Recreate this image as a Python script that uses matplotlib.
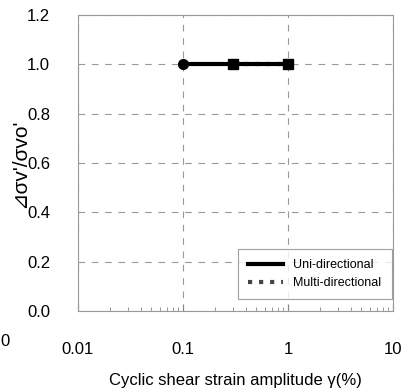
import matplotlib
matplotlib.use("Agg")
import matplotlib.pyplot as plt
from matplotlib.lines import Line2D
from matplotlib.ticker import FixedLocator, LogLocator, NullFormatter

uni_x = [0.1, 0.3, 1.0]
uni_y = [1.0, 1.0, 1.0]
multi_x = [0.3, 1.0]
multi_y = [1.0, 1.0]
xticks = [0.01, 0.1, 1, 10]
xticklabels = ["0.01", "0.1", "1", "10"]
yticks = [0.0, 0.2, 0.4, 0.6, 0.8, 1.0, 1.2]
yticklabels = ["0.0", "0.2", "0.4", "0.6", "0.8", "1.0", "1.2"]

plt.rcParams['font.family'] = ['Liberation Sans', 'DejaVu Sans']

fig = plt.figure(figsize=(4.16, 3.92), dpi=100)
ax = fig.add_axes([0.1875, 0.2066, 0.7575, 0.7554])

ax.set_xscale('log')
ax.set_xlim(0.01, 10)
ax.set_ylim(0.0, 1.2)

ax.plot(multi_x, multi_y, color='black', lw=3, ls=':', marker='s', ms=7, zorder=3)
ax.plot(uni_x, uni_y, color='black', lw=3, marker='o', ms=7, markevery=[0], zorder=4)

ax.xaxis.set_major_locator(FixedLocator(xticks))
ax.set_xticklabels(xticklabels)
ax.xaxis.set_minor_locator(LogLocator(base=10, subs=range(2, 10)))
ax.xaxis.set_minor_formatter(NullFormatter())
ax.set_yticks(yticks)
ax.set_yticklabels(yticklabels)

ax.tick_params(axis='x', which='major', direction='in', length=5, pad=22, labelsize=12, color='#888888')
ax.tick_params(axis='x', which='minor', direction='in', length=3, color='#888888')
ax.tick_params(axis='y', which='major', length=0, pad=20, labelsize=12)

ax.grid(True, which='major', ls=(0, (6, 6)), color='#999999', lw=0.8)
for s in ax.spines.values():
    s.set_color('#999999')
    s.set_linewidth(0.8)

ax.set_xlabel('Cyclic shear strain amplitude γ(%)', fontsize=12, labelpad=12)
ax.set_ylabel("⊿σv'/σvo'", fontsize=15)
ax.yaxis.set_label_coords(-0.155, 0.5)

handles = [Line2D([], [], color='black', lw=3),
           Line2D([], [], color='#444444', lw=3, ls=':')]
leg = ax.legend(handles, ['Uni-directional', 'Multi-directional'],
                loc='lower right', bbox_to_anchor=(0.995, 0.04), borderaxespad=0,
                fontsize=9, frameon=True, fancybox=False, edgecolor='#888888',
                handlelength=2.8, borderpad=0.8, labelspacing=0.5)
leg.get_frame().set_linewidth(0.8)

fig.text(0.002, 0.118, '0', fontsize=12)

fig.savefig('out.png', dpi=100)
